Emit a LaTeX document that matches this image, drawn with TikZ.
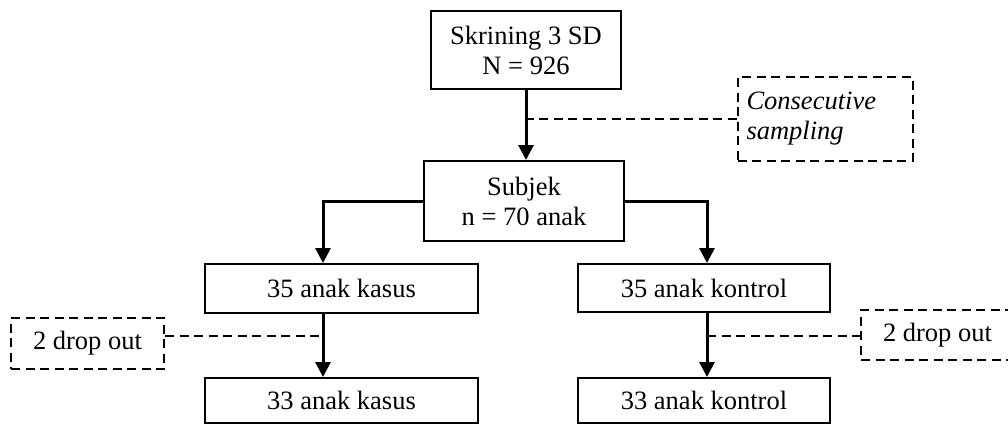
\documentclass[tikz,border=0pt]{standalone}
\usepackage{fontspec}
\setmainfont{Liberation Serif}
\usepackage{tikz}
\usetikzlibrary{arrows.meta}
\tikzstyle{box}=[draw=black, line width=2pt, inner sep=0pt, align=center]
\tikzstyle{dbox}=[box, dash pattern=on 9pt off 5.5pt]
\tikzstyle{link}=[-{Triangle[width=15pt,length=15pt]}, line width=3pt]
\tikzstyle{dline}=[line width=2.2pt, dash pattern=on 9pt off 5.5pt]

\begin{document}
\begin{tikzpicture}[x=1pt, y=-1pt, every node/.style={font=\fontsize{26.5}{30}\selectfont}]
    \path[use as bounding box, clip] (0,0) rectangle (1008,424);

    \coordinate (lcol) at (323,0);
    \coordinate (rcol) at (707,0);

    \node[box, minimum width=190pt, minimum height=78pt] (screen)    at (526,50)      {Skrining 3 SD\\N = 926};
    \node[dbox, text width=157pt, align=left, inner xsep=9pt, minimum height=84pt]
                                                          (sampling)  at (825,119)     {\itshape Consecutive\\\itshape sampling};
    \node[box, minimum width=200pt, minimum height=80pt] (subject)   at (524,201)     {Subjek\\n = 70 anak};
    \node[box, minimum width=273pt, minimum height=49pt] (case35)    at (341.5,288.5) {35 anak kasus};
    \node[box, minimum width=252pt, minimum height=48pt] (control35) at (704,288)     {35 anak kontrol};
    \node[dbox, minimum width=153pt, minimum height=51pt] (dropL)    at (87.5,343.5)  {2 drop out};
    \node[dbox, minimum width=153pt, minimum height=50pt] (dropR)    at (937.5,335)   {2 drop out};
    \node[box, minimum width=273pt, minimum height=45pt] (case33)    at (341.5,400.5) {33 anak kasus};
    \node[box, minimum width=252pt, minimum height=45pt] (control33) at (704,400.5)   {33 anak kontrol};

    \coordinate (ldrop) at (323,336);
    \coordinate (rdrop) at (707,336);

    \draw[link] (screen.south) -- (screen.south |- subject.north);
    \draw[dline] (sampling.west) -- (sampling.west -| screen.south);
    \draw[link] (subject.west) -| (case35.north -| lcol);
    \draw[link] (subject.east) -| (control35.north -| rcol);
    \draw[link] (case35.south -| lcol) -- (case33.north -| lcol);
    \draw[link] (control35.south -| rcol) -- (control33.north -| rcol);
    \draw[dline] (dropL.east |- ldrop) -- (ldrop);
    \draw[dline] (rdrop) -- (rdrop -| dropR.west);
\end{tikzpicture}
\end{document}
